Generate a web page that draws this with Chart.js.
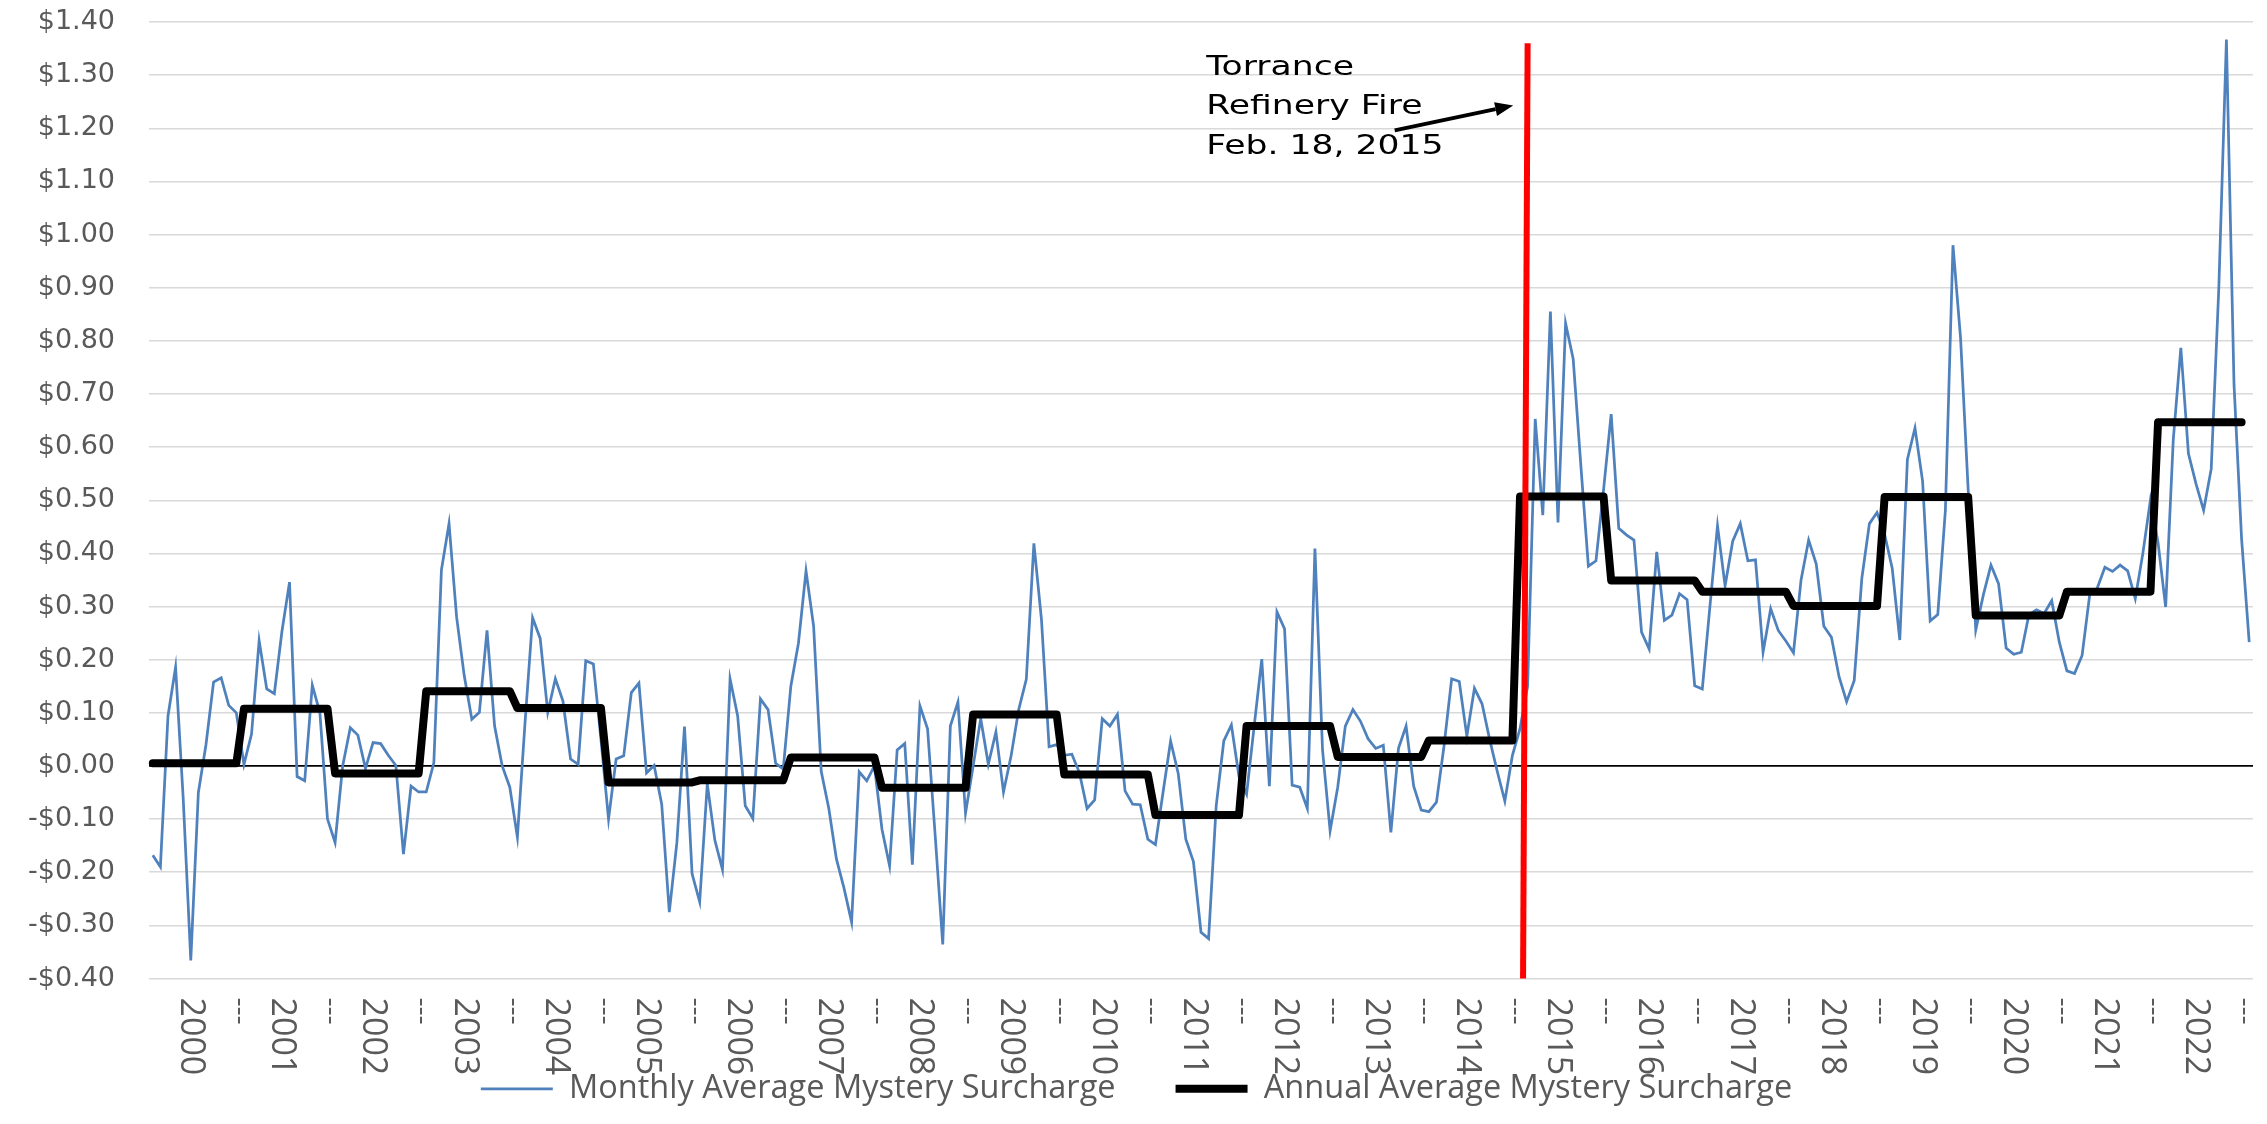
<!DOCTYPE html>
<html>
<head>
<meta charset="utf-8">
<title>Mystery Surcharge</title>
<script src="https://cdn.jsdelivr.net/npm/chart.js@4.4.1/dist/chart.umd.min.js"></script>
<style>
  html, body { margin: 0; padding: 0; background: #fff; }
  #wrap { width: 2267px; height: 1124px; }
</style>
</head>
<body>
<div id="wrap"><canvas id="chart" width="2267" height="1124"></canvas></div>
<script>
// Monthly average mystery surcharge, $/gal, Jan 2000 .. Jan 2023
const MONTHLY = [
  // 2000
  -0.168, -0.19, 0.094, 0.186, -0.06, -0.366, -0.05, 0.04, 0.158, 0.166, 0.114, 0.10,
  // 2001
  0.003, 0.06, 0.236, 0.145, 0.136, 0.253, 0.346, -0.02, -0.028, 0.152, 0.10, -0.10,
  // 2002
  -0.144, 0.00, 0.072, 0.058, -0.005, 0.044, 0.042, 0.02, 0.001, -0.166, -0.038, -0.049,
  // 2003
  -0.049, 0.006, 0.369, 0.456, 0.28, 0.17, 0.088, 0.101, 0.255, 0.075, 0.0, -0.04,
  // 2004
  -0.134, 0.08, 0.279, 0.24, 0.101, 0.164, 0.122, 0.013, 0.003, 0.198, 0.192, 0.05,
  // 2005
  -0.10, 0.013, 0.019, 0.138, 0.156, -0.013, 0.001, -0.072, -0.275, -0.144, 0.074, -0.203,
  // 2006
  -0.256, -0.034, -0.14, -0.195, 0.164, 0.094, -0.075, -0.099, 0.126, 0.106, 0.005, -0.006,
  // 2007
  0.15, 0.231, 0.367, 0.263, -0.01, -0.08, -0.175, -0.23, -0.294, -0.011, -0.028, 0.0,
  // 2008
  -0.119, -0.188, 0.03, 0.042, -0.186, 0.113, 0.07, -0.13, -0.336, 0.075, 0.12, -0.089,
  // 2009
  0.0, 0.089, 0.003, 0.064, -0.049, 0.019, 0.106, 0.163, 0.419, 0.275, 0.036, 0.04,
  // 2010
  0.02, 0.022, -0.013, -0.08, -0.064, 0.089, 0.075, 0.097, -0.047, -0.072, -0.073, -0.138,
  // 2011
  -0.148, -0.05, 0.047, -0.014, -0.138, -0.18, -0.313, -0.325, -0.075, 0.047, 0.077, -0.02,
  // 2012
  -0.053, 0.075, 0.201, -0.038, 0.29, 0.258, -0.036, -0.04, -0.08, 0.409, 0.03, -0.122,
  // 2013
  -0.04, 0.075, 0.106, 0.084, 0.051, 0.033, 0.039, -0.125, 0.033, 0.075, -0.038, -0.083,
  // 2014
  -0.086, -0.068, 0.038, 0.164, 0.159, 0.056, 0.146, 0.117, 0.05, -0.01, -0.066, 0.02,
  // 2015
  0.07, 0.15, 0.653, 0.472, 0.855, 0.458, 0.833, 0.766, 0.567, 0.376, 0.386, 0.52,
  // 2016
  0.662, 0.447, 0.435, 0.425, 0.252, 0.22, 0.403, 0.274, 0.284, 0.324, 0.313, 0.151,
  // 2017
  0.145, 0.30, 0.452, 0.339, 0.423, 0.456, 0.386, 0.388, 0.214, 0.296, 0.255, 0.235,
  // 2018
  0.213, 0.35, 0.425, 0.38, 0.263, 0.242, 0.168, 0.121, 0.161, 0.353, 0.456, 0.477,
  // 2019
  0.436, 0.372, 0.237, 0.577, 0.636, 0.536, 0.273, 0.285, 0.481, 0.98, 0.805, 0.52,
  // 2020
  0.256, 0.322, 0.378, 0.343, 0.222, 0.21, 0.214, 0.285, 0.294, 0.287, 0.311, 0.233,
  // 2021
  0.179, 0.174, 0.208, 0.322, 0.335, 0.374, 0.366, 0.378, 0.367, 0.315, 0.40, 0.501,
  // 2022
  0.42, 0.299, 0.613, 0.787, 0.588, 0.531, 0.481, 0.559, 0.90, 1.367, 0.718, 0.427,
  // 2023
  0.233
];

// Annual average, one value per year 2000..2022
const ANNUAL = [
  0.005, 0.1075, -0.014, 0.1406, 0.109, -0.031, -0.027, 0.016, -0.041, 0.097, -0.016, -0.0925,
  0.075, 0.017, 0.048, 0.507, 0.349, 0.328, 0.301, 0.506, 0.283, 0.328, 0.647
];

const YEARS = ["2000", "2001", "2002", "2003", "2004", "2005", "2006", "2007", "2008", "2009", "2010", "2011",
  "2012", "2013", "2014", "2015", "2016", "2017", "2018", "2019", "2020", "2021", "2022"];
const MONTHS = ["Jan", "Feb", "Mar", "Apr", "May", "Jun", "Jul", "Aug", "Sep", "Oct", "Nov", "Dec"];
const YEAR_BREAK_LABEL = "---";

const LEGEND_MONTHLY = "Monthly Average Mystery Surcharge";
const LEGEND_ANNUAL = "Annual Average Mystery Surcharge";
const NOTE_LINES = ["Torrance", "Refinery Fire", "Feb. 18, 2015"];

// fire marker, in category / dollar units
const FIRE_BOTTOM = [180.4, -0.40];
const FIRE_TOP = [181.0, 1.36];
const NOTE_AT = [138.7, 1.30];         // first text baseline
const NOTE_LINE_STEP = 0.074;          // dollars between text lines
const ARROW_FROM = [163.5, 1.196];
const ARROW_TO = [179.1, 1.243];

const labels = MONTHLY.map((_, i) => MONTHS[i % 12] + " " + (2000 + Math.floor(i / 12)));
const annualByMonth = MONTHLY.map((_, i) => (i < ANNUAL.length * 12 ? ANNUAL[Math.floor(i / 12)] : null));

function money(v) {
  const r = Math.round(v * 100) / 100;
  return (r < 0 ? "-$" : "$") + Math.abs(r).toFixed(2);
}

// x labels read top-to-bottom in the original, which Chart.js cannot rotate to, so they are drawn here
const xLabelsPlugin = {
  id: "xLabels",
  afterDraw(chart) {
    const { ctx, chartArea, scales } = chart;
    const x = scales.x;
    const put = (text, at, size) => {
      ctx.save();
      ctx.font = size + "px 'Open Sans'";
      ctx.translate(x.getPixelForValue(at), chartArea.bottom + 19);
      ctx.rotate(Math.PI / 2);
      ctx.fillText(text, 0, 0);
      ctx.restore();
    };
    ctx.save();
    ctx.fillStyle = "#595959";
    ctx.textAlign = "left";
    ctx.textBaseline = "middle";
    YEARS.forEach((year, k) => {
      put(year, k * 12 + 5, 34);                // mid-year
      put(YEAR_BREAK_LABEL, k * 12 + 11.5, 28); // between Dec and Jan
    });
    ctx.restore();
  },
};

const fireNotePlugin = {
  id: "fireNote",
  afterDatasetsDraw(chart) {
    const { ctx, scales } = chart;
    const px = (p) => [scales.x.getPixelForValue(p[0]), scales.y.getPixelForValue(p[1])];

    ctx.save();
    // red marker line
    const b = px(FIRE_BOTTOM), t = px(FIRE_TOP);
    ctx.strokeStyle = "#FF0000";
    ctx.lineWidth = 6;
    ctx.beginPath(); ctx.moveTo(b[0], b[1]); ctx.lineTo(t[0], t[1]); ctx.stroke();

    // note text, drawn a little wide like the original
    ctx.fillStyle = "#000";
    ctx.font = "26px 'DejaVu Sans'";
    ctx.textAlign = "left";
    ctx.textBaseline = "alphabetic";
    NOTE_LINES.forEach((line, k) => {
      const p = px([NOTE_AT[0], NOTE_AT[1] - k * NOTE_LINE_STEP]);
      ctx.save();
      ctx.translate(p[0], p[1]);
      ctx.scale(1.33, 1);
      ctx.fillText(line, 0, 0);
      ctx.restore();
    });

    // arrow
    const a0 = px(ARROW_FROM), a1 = px(ARROW_TO);
    const ang = Math.atan2(a1[1] - a0[1], a1[0] - a0[0]);
    const head = 18, half = 7;
    const bx = a1[0] - head * Math.cos(ang), by = a1[1] - head * Math.sin(ang);
    ctx.strokeStyle = "#000";
    ctx.lineWidth = 4;
    ctx.beginPath(); ctx.moveTo(a0[0], a0[1]); ctx.lineTo(bx, by); ctx.stroke();
    ctx.beginPath();
    ctx.moveTo(a1[0], a1[1]);
    ctx.lineTo(bx + half * Math.sin(ang), by - half * Math.cos(ang));
    ctx.lineTo(bx - half * Math.sin(ang), by + half * Math.cos(ang));
    ctx.closePath();
    ctx.fillStyle = "#000";
    ctx.fill();
    ctx.restore();
  },
};

const whiteBg = {
  id: "whiteBg",
  beforeDraw(chart) {
    const { ctx, width, height } = chart;
    ctx.save(); ctx.fillStyle = "#fff"; ctx.fillRect(0, 0, width, height); ctx.restore();
  },
};

new Chart(document.getElementById("chart"), {
  type: "line",
  data: {
    labels,
    datasets: [
      { label: LEGEND_MONTHLY, data: MONTHLY, borderColor: "#4F81BD", backgroundColor: "#4F81BD", borderWidth: 2.75, pointRadius: 0, tension: 0, order: 1 },
      { label: LEGEND_ANNUAL, data: annualByMonth, borderColor: "#000", backgroundColor: "#000", borderWidth: 8, pointRadius: 0, tension: 0, borderCapStyle: "round", borderJoinStyle: "round", order: 0 },
    ],
  },
  options: {
    responsive: false, animation: false, devicePixelRatio: 1,
    layout: { padding: { left: 20, right: 14, top: 22, bottom: 9 } },
    plugins: {
      tooltip: { enabled: false },
      legend: {
        position: "bottom",
        labels: {
          usePointStyle: true, pointStyle: "line", pointStyleWidth: 72, padding: 60,
          color: "#595959", font: { family: "'Open Sans'", size: 32.5 },
          sort: (a, b) => a.datasetIndex - b.datasetIndex,
        },
      },
    },
    scales: {
      x: {
        type: "category", offset: true,
        grid: { display: false }, border: { display: false },
        ticks: { display: false },
        afterFit(scale) { scale.height = 34; },
      },
      y: {
        min: -0.4, max: 1.4,
        afterFit(scale) { scale.width = 129; scale.paddingTop = 0; scale.paddingBottom = 0; },
        border: { display: false },
        grid: {
          drawTicks: false,
          color: (c) => (Math.abs(c.tick.value) < 1e-9 ? "#000" : "#D9D9D9"),
          lineWidth: (c) => (Math.abs(c.tick.value) < 1e-9 ? 1.7 : 1.5),
        },
        ticks: { stepSize: 0.1, padding: 34, color: "#595959", font: { family: "'DejaVu Sans'", size: 27 }, callback: (v) => money(v) },
      },
    },
  },
  plugins: [whiteBg, xLabelsPlugin, fireNotePlugin],
});
</script>
</body>
</html>
